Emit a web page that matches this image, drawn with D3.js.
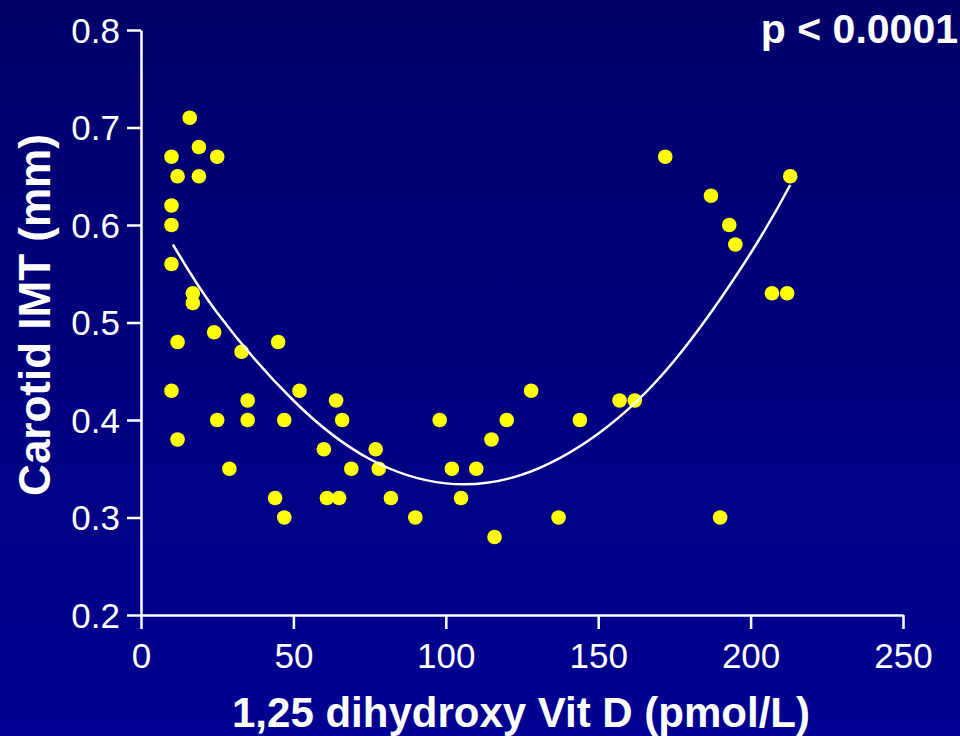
<!DOCTYPE html>
<html><head><meta charset="utf-8">
<script src="https://cdn.jsdelivr.net/npm/d3@7"></script>
<style>html,body{margin:0;padding:0;background:#000070;}svg{display:block;}</style>
</head><body>
<script>
// Scatter data: 1,25 dihydroxy Vit D (pmol/L) vs Carotid IMT (mm)
const vitD = [10,10,10,10,10,12,12,12,16,19,19,25,17,17,24,25,29,33,35,35,45,44,47,47,52,60,61,64,65,66,69,77,78,82,90,98,102,105,110,115,116,120,128,137,144,157,162,172,187,193,195,190,207,212,213];
const imt  = [0.67,0.62,0.60,0.56,0.43,0.65,0.48,0.38,0.71,0.68,0.65,0.67,0.53,0.52,0.49,0.40,0.35,0.47,0.42,0.40,0.48,0.32,0.30,0.40,0.43,0.37,0.32,0.42,0.32,0.40,0.35,0.37,0.35,0.32,0.30,0.40,0.35,0.32,0.35,0.38,0.28,0.40,0.43,0.30,0.40,0.42,0.42,0.67,0.63,0.60,0.58,0.30,0.53,0.53,0.65];
// Fitted quadratic curve
const fitX = [10.5,25,50,75,100,125,150,175,200,213];
const fitY = [0.58,0.51,0.42,0.36,0.335,0.344,0.386,0.461,0.571,0.641];
const xTicks = [0,50,100,150,200,250];
const yTicks = [0.2,0.3,0.4,0.5,0.6,0.7,0.8];
const pLabel = "p < 0.0001";

const W = 960, H = 736;
const svg = d3.select("body").append("svg").attr("width", W).attr("height", H);
const defs = svg.append("defs");
const grad = defs.append("linearGradient").attr("id","bg").attr("x1",0).attr("y1",0).attr("x2",0).attr("y2",1);
grad.append("stop").attr("offset","0%").attr("stop-color","#00006a");
grad.append("stop").attr("offset","100%").attr("stop-color","#000092");
svg.append("rect").attr("width",W).attr("height",H).attr("fill","url(#bg)");

const x = d3.scaleLinear().domain([0,250]).range([141,903]);
const y = d3.scaleLinear().domain([0.2,0.8]).range([615,30]);
const font = "'Liberation Sans', Arial, Helvetica, sans-serif";

// Axes
const xAxis = svg.append("g").attr("transform","translate(0,615)")
  .call(d3.axisBottom(x).tickValues(xTicks).tickSize(14).tickPadding(12).tickSizeOuter(0).tickFormat(d3.format("d")));
const yAxis = svg.append("g").attr("transform","translate(141,0)")
  .call(d3.axisLeft(y).tickValues(yTicks).tickSize(14).tickPadding(7).tickSizeOuter(0).tickFormat(d3.format(".1f")));
[xAxis,yAxis].forEach(g=>{
  g.select(".domain").attr("stroke","#fff").attr("stroke-width",2.5);
  g.selectAll(".tick line").attr("stroke","#fff").attr("stroke-width",2.5);
  g.selectAll(".tick text").attr("fill","#fff").style("font-family",font).style("font-size","35px");
});
xAxis.selectAll(".tick text").attr("dy","0.78em");
yAxis.selectAll(".tick text").attr("dy","0.35em");

// Points
svg.append("g").selectAll("circle").data(vitD.map((v,i)=>[v,imt[i]])).join("circle")
  .attr("cx",d=>x(d[0])).attr("cy",d=>y(d[1])).attr("r",7.3).attr("fill","#ffff00");

// Fit curve
const line = d3.line().x(d=>x(d[0])).y(d=>y(d[1])).curve(d3.curveNatural);
svg.append("path").datum(fitX.map((v,i)=>[v,fitY[i]])).attr("d",line)
  .attr("fill","none").attr("stroke","#fff").attr("stroke-width",2.5);

// Labels
svg.append("text").attr("x",521).attr("y",727).attr("text-anchor","middle")
  .attr("fill","#fff").style("font-family",font).style("font-weight","bold").style("font-size","42px")
  .text("1,25 dihydroxy Vit D (pmol/L)");
svg.append("text").attr("transform","translate(50,315) rotate(-90)").attr("text-anchor","middle")
  .attr("fill","#fff").style("font-family",font).style("font-weight","bold").style("font-size","44px")
  .text("Carotid IMT (mm)");
svg.append("text").attr("x",958).attr("y",43).attr("text-anchor","end")
  .attr("fill","#fff").style("font-family",font).style("font-weight","bold").style("font-size","41px")
  .text(pLabel);
</script>
</body></html>
